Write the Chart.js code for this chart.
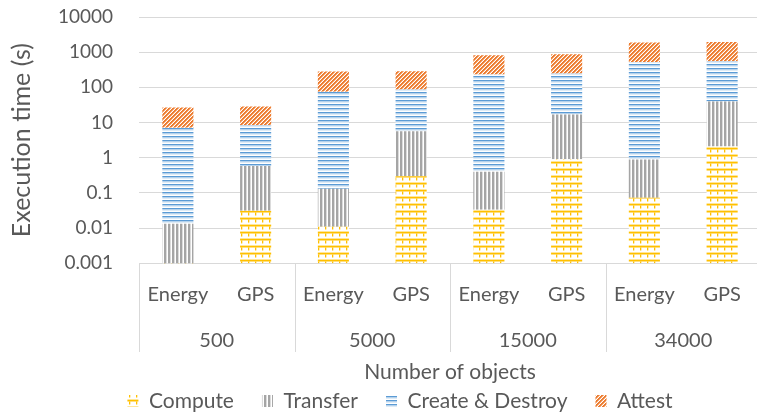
<!DOCTYPE html>
<html>
<head>
<meta charset="utf-8">
<script src="https://cdn.jsdelivr.net/npm/chart.js@4/dist/chart.umd.min.js"></script>
<style>
  html, body { margin: 0; padding: 0; background: #fff; overflow: hidden; }
  #wrap { position: relative; width: 800px; height: 417px; }
</style>
</head>
<body>
<div id="wrap"><canvas id="chart"></canvas></div>
<script>
// Execution time per phase, stacked, for each application and object count
const categories = ['Energy', 'GPS', 'Energy', 'GPS', 'Energy', 'GPS', 'Energy', 'GPS'];
const groupLabels = ['500', '5000', '15000', '34000'];
const computeTime       = [0.0008, 0.031, 0.011, 0.30, 0.033, 0.91, 0.073, 2.1];
const transferTime      = [0.0126, 0.55, 0.12, 5.4, 0.37, 16.0, 0.82, 37.5];
const createDestroyTime = [7.09, 7.8, 74.4, 81, 231, 230, 529, 513];
const attestTime        = [19.7, 20.2, 206, 201, 587, 626, 1340, 1402];
const yTicks = [0.001, 0.01, 0.1, 1, 10, 100, 1000, 10000];

const FONT = 'Lato';
const TEXT = '#595959';
const GRID = '#D9D9D9';
const LEGEND_PAD = 28;
const LEGEND_FONT = 21;

// Small repeating tiles used as fill patterns
function makePattern(w, h, draw) {
  const c = document.createElement('canvas');
  c.width = w; c.height = h;
  const g = c.getContext('2d');
  g.fillStyle = '#ffffff';
  g.fillRect(0, 0, w, h);
  draw(g, w, h);
  return g.createPattern(c, 'repeat');
}

const brickFill = makePattern(7, 7, (g) => {
  g.fillStyle = '#FFE699';
  g.fillRect(0, 0, 7, 1);
  g.fillStyle = '#FFC000';
  g.fillRect(0, 1, 7, 1.5);
  g.fillRect(3, 2.5, 1.3, 3);
});
const verticalFill = makePattern(4, 4, (g) => {
  g.fillStyle = '#A5A5A5';
  g.fillRect(0, 0, 2.4, 4);
});
const horizontalFill = makePattern(4, 4, (g) => {
  g.fillStyle = '#5B9BD5';
  g.fillRect(0, 0, 4, 1.5);
  g.fillStyle = '#BDD7EE';
  g.fillRect(0, 1.5, 4, 1);
});
const diagonalFill = makePattern(4, 4, (g) => {
  for (let x = 0; x < 4; x++) {
    for (let y = 0; y < 4; y++) {
      const k = (x + y) % 4;
      if (k === 0 || k === 1) { g.fillStyle = '#ED7D31'; g.fillRect(x, y, 1, 1); }
      else if (k === 2) { g.fillStyle = '#F4B183'; g.fillRect(x, y, 1, 1); }
    }
  }
});

// Vertical separators of the two-level category axis
const groupBoxes = {
  id: 'groupBoxes',
  afterDraw(chart) {
    const x = chart.scales.x;
    const area = chart.chartArea;
    const ctx = chart.ctx;
    const slot = (x.right - x.left) / categories.length;
    ctx.save();
    ctx.strokeStyle = GRID;
    ctx.lineWidth = 1;
    for (let k = 0; k <= groupLabels.length; k++) {
      const px = Math.round(x.left + k * 2 * slot) + 0.5;
      ctx.beginPath();
      ctx.moveTo(px, area.bottom);
      ctx.lineTo(px, 352);
      ctx.stroke();
    }
    ctx.restore();
  }
};

// Places the legend row under the axis title, centred on the full canvas
const legendRow = {
  id: 'legendRow',
  beforeLayout(chart) {
    const lg = chart.legend;
    if (lg && !lg._compact) {
      const fit = lg.fit.bind(lg);
      lg.fit = function () { fit(); this.height = 31; };
      lg._compact = true;
    }
  },
  afterLayout(chart) {
    const lg = chart.legend;
    if (!lg) return;
    lg.top = 401 - LEGEND_PAD - LEGEND_FONT / 2;
    lg.bottom = chart.height;
    const shift = chart.width / 2 - (lg.left + lg.right) / 2;
    lg.left += shift;
    lg.right += shift;
  }
};

new Chart(document.getElementById('chart'), {
  type: 'bar',
  data: {
    labels: categories,
    datasets: [
      { label: 'Compute', data: computeTime, backgroundColor: brickFill, borderWidth: 0 },
      { label: 'Transfer', data: transferTime, backgroundColor: verticalFill, borderWidth: 0 },
      { label: 'Create & Destroy', data: createDestroyTime, backgroundColor: horizontalFill, borderWidth: 0 },
      { label: 'Attest', data: attestTime, backgroundColor: diagonalFill, borderWidth: 0 }
    ]
  },
  options: {
    responsive: true,
    maintainAspectRatio: false,
    animation: false,
    layout: { padding: { top: 17, right: 39, bottom: 0, left: 0 } },
    datasets: { bar: { categoryPercentage: 1, barPercentage: 0.4 } },
    plugins: {
      tooltip: { enabled: false },
      legend: {
        position: 'bottom',
        labels: {
          font: { family: FONT, size: LEGEND_FONT },
          color: TEXT,
          boxWidth: 11,
          boxHeight: 12,
          padding: LEGEND_PAD
        }
      }
    },
    scales: {
      x: {
        stacked: true,
        offset: true,
        grid: { display: false, drawTicks: false },
        border: { display: false },
        ticks: { font: { family: FONT, size: 20 }, color: TEXT, padding: 19, maxRotation: 0 },
        afterFit(s) { s.height = 52; }
      },
      x2: {
        type: 'category',
        labels: groupLabels,
        position: 'bottom',
        offset: true,
        grid: { display: false, drawTicks: false },
        border: { display: false },
        ticks: { font: { family: FONT, size: 20 }, color: TEXT, padding: 13, maxRotation: 0 },
        title: {
          display: true,
          text: 'Number of objects',
          font: { family: FONT, size: 21 },
          color: TEXT,
          padding: { top: 0, bottom: 1 }
        },
        afterFit(s) { s.height = 70.7; }
      },
      y: {
        type: 'logarithmic',
        stacked: true,
        min: 0.001,
        max: 10000,
        afterBuildTicks(s) { s.ticks = yTicks.map(v => ({ value: v })); },
        ticks: {
          autoSkip: false,
          font: { family: FONT, size: 19 },
          color: TEXT,
          padding: 0,
          callback: (v) => String(v)
        },
        grid: { color: GRID, lineWidth: 1, drawTicks: true, tickLength: 26, tickColor: 'rgba(0,0,0,0)' },
        border: { display: false },
        title: {
          display: true,
          text: 'Execution time (s)',
          font: { family: FONT, size: 25 },
          color: TEXT,
          padding: { top: 7, bottom: 0 }
        },
        afterFit(s) { s.width = 139; }
      }
    }
  },
  plugins: [groupBoxes, legendRow]
});
</script>
</body>
</html>
